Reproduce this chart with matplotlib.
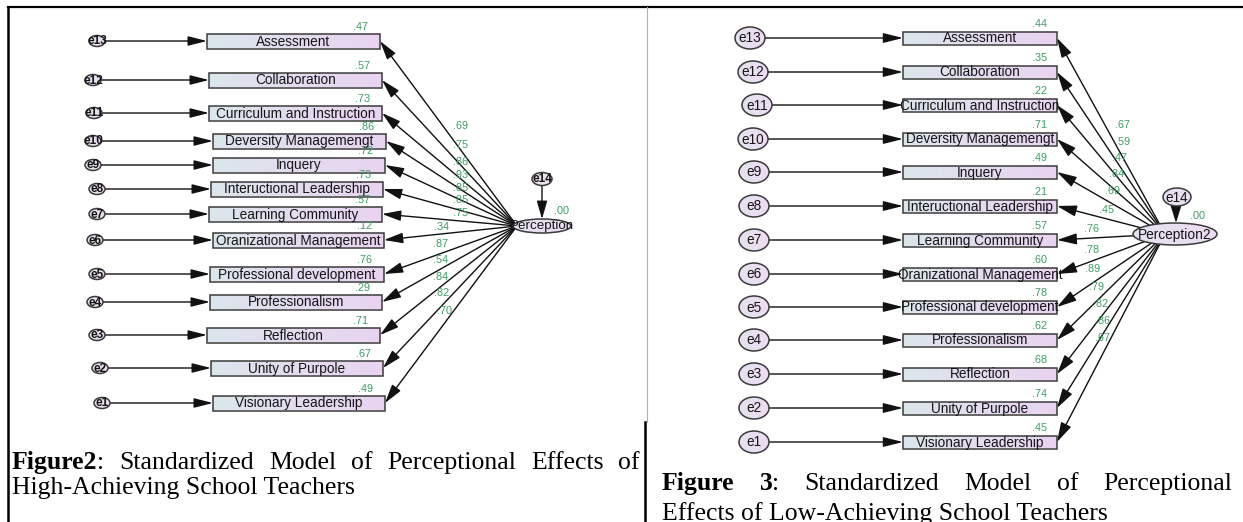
import matplotlib

matplotlib.use("Agg")
import matplotlib.pyplot as plt
from matplotlib.colors import LinearSegmentedColormap
from matplotlib.patches import Ellipse, FancyArrowPatch, Rectangle
import numpy as np

# ---------------------------------------------------------------- data
indicators = ["Assessment", "Collaboration", "Curriculum and Instruction",
              "Deversity Managemengt", "Inquery", "Inteructional Leadership",
              "Learning Community", "Oranizational Management",
              "Professional development", "Professionalism", "Reflection",
              "Unity of Purpole", "Visionary Leadership"]
errors = ["e13", "e12", "e11", "e10", "e9", "e8", "e7", "e6", "e5", "e4",
          "e3", "e2", "e1"]
high_loadings = [.69, .75, .86, .93, .85, .85, .75, .34, .87, .54, .84, .82, .70]
high_smc = [.47, .57, .73, .86, .72, .73, .57, .12, .76, .29, .71, .67, .49]
low_loadings = [.67, .59, .47, .84, .69, .45, .76, .78, .89, .79, .82, .86, .67]
low_smc = [.44, .35, .22, .71, .49, .21, .57, .60, .78, .62, .68, .74, .45]

# ------------------------------------------------------- layout (pixels)
W, H = 1243, 522
hi_rows = [41, 80, 113, 141, 165, 189, 214, 240, 274, 302, 335, 368, 403]
hi_box_l = [207, 209, 209, 213, 213, 211, 209, 213, 210, 210, 207, 211, 213]
hi_box_r = [380, 382, 382, 386, 385, 383, 382, 384, 384, 382, 380, 383, 385]
hi_err_x = [97, 93, 94, 93, 93, 97, 97, 95, 97, 95, 97, 100, 102]
hi_lab = [(461, 126), (461, 145), (461, 162), (461, 175), (461, 188),
          (461, 200), (461, 213), (442, 227), (441, 244), (441, 260),
          (441, 277), (442, 293), (445, 311)]
lo_rows = [38, 72, 105, 139, 172, 206, 240, 274, 307, 340, 374, 408, 442]
lo_err_x = [750, 753, 757, 753, 754, 754, 754, 754, 754, 754, 754, 754, 754]
lo_lab = [(1123, 125), (1123, 142), (1120, 158), (1117, 174), (1113, 191),
          (1107, 210), (1092, 229), (1092, 250), (1093, 269), (1097, 287),
          (1101, 304), (1103, 321), (1103, 338)]

SANS = "Liberation Sans"
SERIF = "Liberation Serif"
GREEN = "#3a9e63"
INK = "#151515"
EDGE = "#3a3a3a"
grad = LinearSegmentedColormap.from_list("g", ["#dbe6ec", "#e4dcef", "#e9d4f1"])
grad_e = LinearSegmentedColormap.from_list("ge", ["#e4e2ef", "#efdcf3"])


def grad_patch(ax, patch, x0, x1, y0, y1, cmap):
    ax.add_patch(patch)
    im = ax.imshow(np.linspace(0, 1, 64)[None, :], extent=(x0, x1, y1, y0),
                   cmap=cmap, aspect="auto", interpolation="bilinear",
                   zorder=patch.get_zorder() - 0.1)
    im.set_clip_path(patch)


def box(ax, xl, xr, y, h, text):
    r = Rectangle((xl, y - h / 2), xr - xl, h, fc="none", ec=EDGE, lw=1.1,
                  zorder=4)
    grad_patch(ax, r, xl, xr, y - h / 2, y + h / 2, grad)
    ax.text((xl + xr) / 2, y + 0.5, text, ha="center", va="center",
            family=SANS, fontsize=9.8, color=INK, zorder=5)


def oval(ax, x, y, w, h, text, size, weight="normal"):
    e = Ellipse((x, y), w, h, fc="none", ec=EDGE, lw=1.1, zorder=4)
    grad_patch(ax, e, x - w / 2, x + w / 2, y - h / 2, y + h / 2, grad_e)
    ax.text(x, y + 0.5, text, ha="center", va="center", family=SANS,
            fontsize=size, weight=weight, color=INK, zorder=5)


def arrow(ax, p0, p1, hl=11.5, hw=3.0, lw=1.0):
    ax.add_patch(FancyArrowPatch(
        p0, p1, arrowstyle=f"-|>,head_length={hl},head_width={hw}",
        mutation_scale=1, shrinkA=0, shrinkB=0, lw=lw, color="#111111",
        zorder=3))


def num(v):
    return f"{v:.2f}"[1:]


def justified(ax, fig, groups, x0, x1, y, size):
    r = fig.canvas.get_renderer()
    widths = []
    for g in groups:
        w = 0
        for s, wt in g:
            t = ax.text(0, 0, s, family=SERIF, fontsize=size, weight=wt)
            w += t.get_window_extent(r).width
            t.remove()
        widths.append(w)
    gap = (x1 - x0 - sum(widths)) / (len(groups) - 1)
    x = x0
    for g, w in zip(groups, widths):
        xx = x
        for s, wt in g:
            t = ax.text(xx, y, s, family=SERIF, fontsize=size, weight=wt,
                        va="baseline", color="black")
            xx += t.get_window_extent(r).width
        x += w + gap


fig = plt.figure(figsize=(W / 100, H / 100), dpi=100)
ax = fig.add_axes([0, 0, 1, 1])
ax.set_xlim(0, W)
ax.set_ylim(H, 0)
ax.axis("off")

# table borders
ax.plot([8, W], [7, 7], color="black", lw=1.6)
ax.plot([8, 8], [7, H], color="black", lw=1.8)
ax.plot([647, 647], [7, 422], color="#b0b0b0", lw=0.8)
ax.plot([645, 645], [422, H], color="black", lw=1.8)

# -------------------------------------------- left: high-achieving model
hi_c = (542, 226)
for i, name in enumerate(indicators):
    y = hi_rows[i]
    box(ax, hi_box_l[i], hi_box_r[i], y, 15, name)
    oval(ax, hi_err_x[i], y, 16, 11, errors[i], 8.5, "bold")
    arrow(ax, (hi_err_x[i] + 8, y), (hi_box_l[i], y), hl=11.5, hw=2.9)
    arrow(ax, (517, 226), (hi_box_r[i], y), hl=11.5, hw=3.2)
    ax.text(*hi_lab[i], num(high_loadings[i]), ha="center", va="center",
            family=SANS, fontsize=7.8, color=GREEN, zorder=6)
    ax.text(hi_box_r[i] - 19, y - 14, num(high_smc[i]), ha="center",
            va="center", family=SANS, fontsize=7.8, color=GREEN, zorder=6)
oval(ax, hi_c[0], hi_c[1], 58, 14, "Perception", 9.6)
oval(ax, 542, 179, 20, 13, "e14", 8.5, "bold")
arrow(ax, (542, 186), (542, 219), hl=11, hw=3.2)
ax.text(562, 211, ".00", ha="center", va="center", family=SANS,
        fontsize=7.8, color=GREEN)

# --------------------------------------------- right: low-achieving model
for i, name in enumerate(indicators):
    y = lo_rows[i]
    box(ax, 903, 1057, y, 13, name)
    oval(ax, lo_err_x[i], y, 30, 22, errors[i], 9.8)
    arrow(ax, (lo_err_x[i] + 15, y), (903, y), hl=12, hw=3.0)
    arrow(ax, (1165, 234), (1057, y), hl=12, hw=3.4)
    ax.text(*lo_lab[i], num(low_loadings[i]), ha="center", va="center",
            family=SANS, fontsize=7.8, color=GREEN, zorder=6)
    ax.text(1040, y - 14, num(low_smc[i]), ha="center", va="center",
            family=SANS, fontsize=7.8, color=GREEN, zorder=6)
oval(ax, 1175, 234, 84, 22, "Perception2", 9.9)
oval(ax, 1177, 197, 28, 18, "e14", 9.8)
arrow(ax, (1176, 206), (1176, 223), hl=11, hw=3.4)
ax.text(1198, 216, ".00", ha="center", va="center", family=SANS,
        fontsize=7.8, color=GREEN)

# -------------------------------------------------------------- captions
CAP = 18.5
justified(ax, fig, [[("Figure2", "bold"), (":", "normal")],
                    [("Standardized", "normal")], [("Model", "normal")],
                    [("of", "normal")], [("Perceptional", "normal")],
                    [("Effects", "normal")], [("of", "normal")]],
          12, 640, 469, CAP)
ax.text(12, 494, "High-Achieving School Teachers", family=SERIF,
        fontsize=CAP, va="baseline")
justified(ax, fig, [[("Figure", "bold")], [("3", "bold"), (":", "normal")],
                    [("Standardized", "normal")], [("Model", "normal")],
                    [("of", "normal")], [("Perceptional", "normal")]],
          662, 1232, 490, CAP)
ax.text(662, 520, "Effects of Low-Achieving School Teachers", family=SERIF,
        fontsize=CAP, va="baseline")

fig.savefig("out.png", dpi=100)
